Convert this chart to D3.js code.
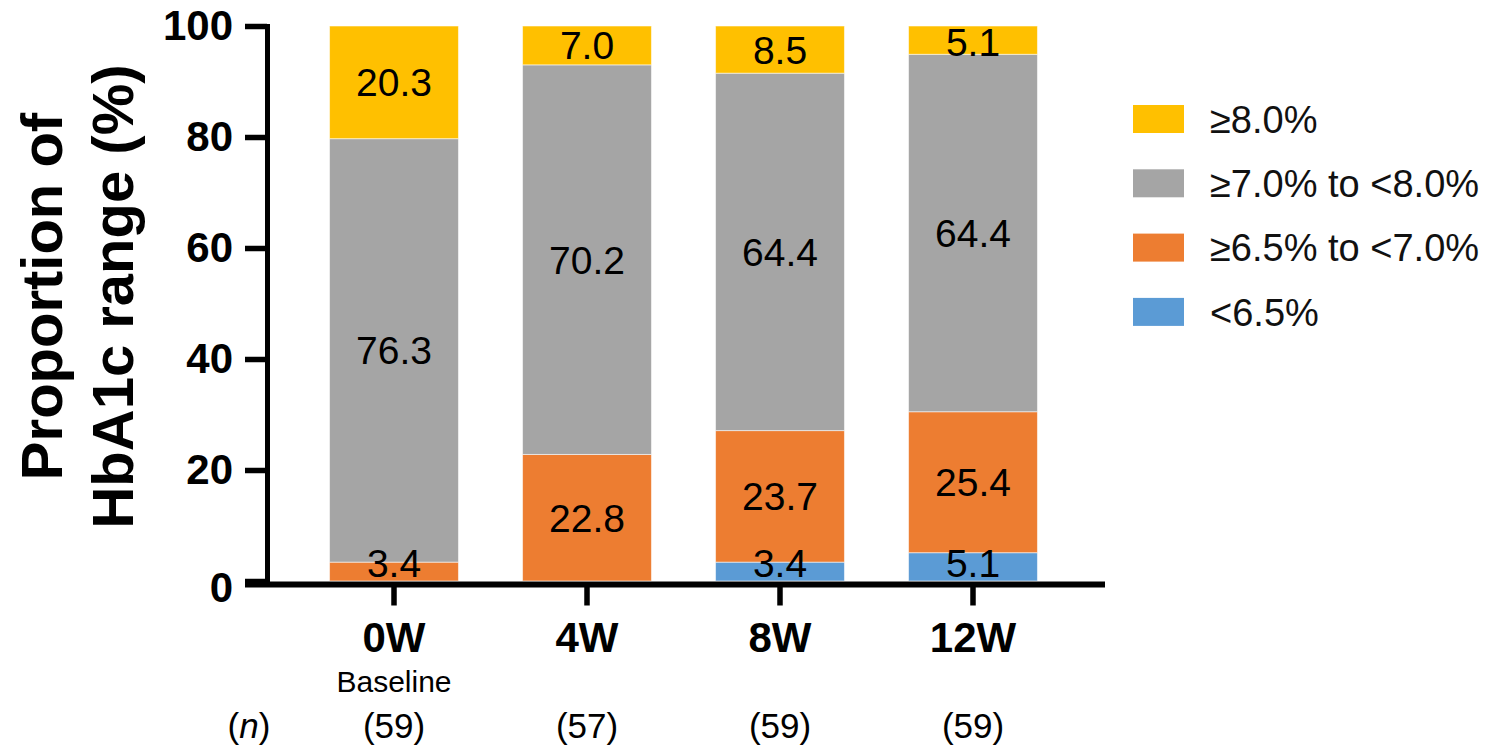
<!DOCTYPE html>
<html>
<head>
<meta charset="utf-8">
<script src="https://cdn.jsdelivr.net/npm/d3@7"></script>
<style>
  html, body { margin: 0; padding: 0; background: #fff; }
  svg { display: block; font-family: "Liberation Sans", Arial, Helvetica, sans-serif; }
</style>
</head>
<body>
<svg id="chart" width="1499" height="748"></svg>
<script>
// ---- data ----
const categories = ["0W", "4W", "8W", "12W"];
const subLabels = ["Baseline", "", "", ""];
const nLabels = ["(59)", "(57)", "(59)", "(59)"];
const seriesKeys = ["lt65", "r65to70", "r70to80", "ge80"];          // bottom -> top
const seriesNames = ["<6.5%", "\u22656.5% to <7.0%", "\u22657.0% to <8.0%", "\u22658.0%"];
const seriesColors = ["#5B9BD5", "#ED7D31", "#A5A5A5", "#FFC000"];
const lt65 = [0, 0, 3.4, 5.1];
const r65to70 = [3.4, 22.8, 23.7, 25.4];
const r70to80 = [76.3, 70.2, 64.4, 64.4];
const ge80 = [20.3, 7.0, 8.5, 5.1];
const yTicks = [0, 20, 40, 60, 80, 100];

const seriesValues = { lt65, r65to70, r70to80, ge80 };
const rows = categories.map((c, i) => {
  const r = { cat: c };
  seriesKeys.forEach(k => r[k] = seriesValues[k][i]);
  return r;
});

// ---- layout ----
const svg = d3.select("#chart");
const font = '"Liberation Sans", Arial, Helvetica, sans-serif';

const y = d3.scaleLinear().domain([0, 100]).range([581, 26]);
const x = d3.scaleBand().domain(categories).range([297.5, 1069.5])
  .paddingInner(0.332).paddingOuter(0.166);
const color = d3.scaleOrdinal().domain(seriesKeys).range(seriesColors);

const stack = d3.stack().keys(seriesKeys);
const stacked = stack(rows);

// bars
const layers = svg.append("g").selectAll("g").data(stacked).join("g")
  .attr("fill", d => color(d.key));
layers.selectAll("rect").data(d => d.map(p => ({ p, key: d.key })))
  .join("rect")
  .attr("x", d => x(d.p.data.cat))
  .attr("width", x.bandwidth())
  .attr("y", d => y(d.p[1]))
  .attr("height", d => y(d.p[0]) - y(d.p[1]))
  .attr("stroke", "#ffffff")
  .attr("stroke-opacity", 0.55)
  .attr("stroke-width", 1);

// value labels
const capHalf = 14;
const labelData = [];
stacked.forEach(layer => {
  layer.forEach(p => {
    const v = p[1] - p[0];
    if (v <= 0) return;
    let cy = (y(p[0]) + y(p[1])) / 2;
    cy = Math.min(cy, y(0) - 4 - capHalf);
    cy = Math.max(cy, y(100) + 2 + capHalf);
    labelData.push({ cat: p.data.cat, v, cy });
  });
});
svg.append("g").selectAll("text").data(labelData).join("text")
  .attr("x", d => x(d.cat) + x.bandwidth() / 2)
  .attr("y", d => d.cy)
  .attr("dy", "0.36em")
  .attr("text-anchor", "middle")
  .attr("font-size", 39)
  .attr("fill", "#000")
  .text(d => d.v.toFixed(1));

// y axis
const yAxis = d3.axisLeft(y).tickValues(yTicks).tickSize(22).tickSizeOuter(0).tickPadding(12);
const gy = svg.append("g").attr("transform", "translate(267,0)").call(yAxis);
gy.select(".domain").attr("stroke", "#000").attr("stroke-width", 5)
  .attr("stroke-linecap", "square");
gy.selectAll(".tick line").attr("stroke", "#000").attr("stroke-width", 5.5);
gy.selectAll(".tick text").attr("font-family", font).attr("font-size", 42)
  .attr("font-weight", "bold").attr("fill", "#000");
gy.selectAll(".tick").filter(d => d === 0).select("text").attr("dy", "0.48em");

// x axis
const xAxis = d3.axisBottom(x).tickSize(21).tickSizeOuter(0).tickFormat("");
const gx = svg.append("g").attr("transform", "translate(0,584.5)").call(xAxis);
gx.select(".domain").remove();
gx.selectAll(".tick line").attr("stroke", "#000").attr("stroke-width", 5.5);
gx.append("line").attr("x1", 245).attr("x2", 1105).attr("y1", 0).attr("y2", 0)
  .attr("stroke", "#000").attr("stroke-width", 6);

// category labels
const cx = c => x(c) + x.bandwidth() / 2;
svg.append("g").selectAll("text").data(categories).join("text")
  .attr("x", cx).attr("y", 652).attr("text-anchor", "middle")
  .attr("font-size", 42).attr("font-weight", "bold").attr("fill", "#000")
  .text(d => d);
svg.append("g").selectAll("text").data(categories.map((c, i) => ({ c, t: subLabels[i] })).filter(d => d.t))
  .join("text")
  .attr("x", d => cx(d.c)).attr("y", 692).attr("text-anchor", "middle")
  .attr("font-size", 30).attr("fill", "#000")
  .text(d => d.t);
svg.append("g").selectAll("text").data(categories.map((c, i) => ({ c, t: nLabels[i] })))
  .join("text")
  .attr("x", d => cx(d.c)).attr("y", 738).attr("text-anchor", "middle")
  .attr("font-size", 35).attr("fill", "#000")
  .text(d => d.t);
const nt = svg.append("text").attr("x", 249).attr("y", 738).attr("text-anchor", "middle")
  .attr("font-size", 35).attr("fill", "#000");
nt.append("tspan").text("(");
nt.append("tspan").attr("font-style", "italic").text("n");
nt.append("tspan").text(")");

// y title
const yt = svg.append("g").attr("transform", "translate(0,296.5) rotate(-90)");
yt.append("text").attr("x", 0).attr("y", 62).attr("text-anchor", "middle")
  .attr("font-size", 58).attr("font-weight", "bold").attr("fill", "#000")
  .text("Proportion of");
yt.append("text").attr("x", 0).attr("y", 133).attr("text-anchor", "middle")
  .attr("font-size", 58).attr("font-weight", "bold").attr("fill", "#000")
  .text("HbA1c range (%)");

// legend (top -> bottom: reversed stack order)
const legendOrder = seriesKeys.slice().reverse();
const lg = svg.append("g").selectAll("g").data(legendOrder).join("g")
  .attr("transform", (d, i) => `translate(1133,${105 + i * 64.3})`);
lg.append("rect").attr("width", 51).attr("height", 28).attr("fill", d => color(d));
lg.append("text").attr("x", 77).attr("y", 14).attr("dy", "0.36em")
  .attr("font-size", 38).attr("fill", "#111")
  .text(d => seriesNames[seriesKeys.indexOf(d)]);
</script>
</body>
</html>
